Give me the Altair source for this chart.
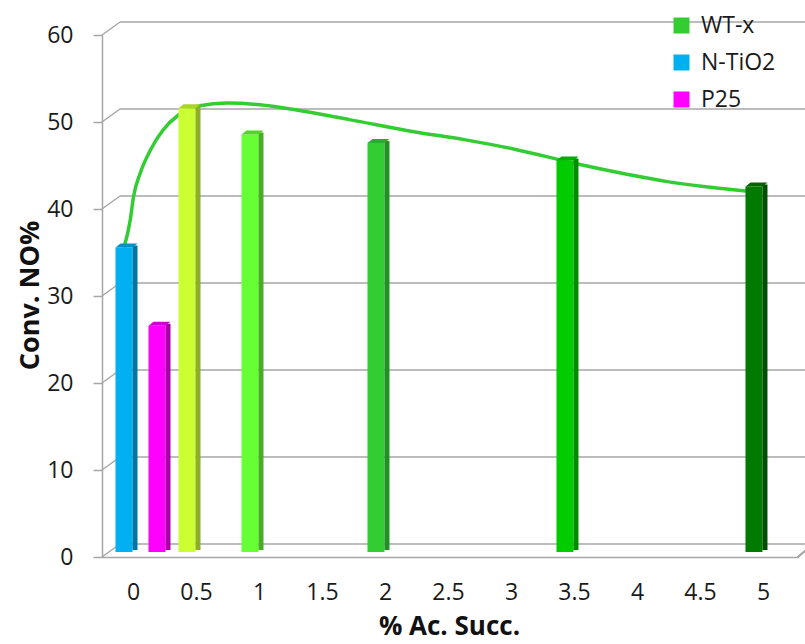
import altair as alt
import pandas as pd

# ---- data ----
x_ticks = [0, 0.5, 1, 1.5, 2, 2.5, 3, 3.5, 4, 4.5, 5]
y_ticks = [0, 10, 20, 30, 40, 50, 60]

series_names = ["WT-x", "N-TiO2", "P25"]
wt_x = [0.5, 1, 2, 3.5, 5]
wt_values = [51, 48, 47, 45, 42]
ntio2_x = [0]
ntio2_values = [35]
p25_x = [0]
p25_values = [26]

# smoothed curve drawn over the WT-x series
curve_x = [0, 0.05, 0.075, 0.13, 0.21, 0.31, 0.43, 0.6, 0.82, 1.08, 1.37, 1.79,
           2.3, 2.7, 3.1, 3.6, 4.0, 4.3, 4.6, 5.0]
curve_y = [35, 38.2, 40.8, 43.6, 46.2, 48.5, 50.2, 51.3, 51.6, 51.4, 50.8, 49.7,
           48.3, 47.4, 46.3, 44.6, 43.4, 42.6, 42.0, 41.4]

# ---- styles ----
bar_ids = ["N-TiO2|0", "P25|0", "WT-x|0.5", "WT-x|1", "WT-x|2", "WT-x|3.5", "WT-x|5"]
front_colors = ["#00B0F0", "#FF00FF", "#CCFF33", "#66FF33", "#33CC33", "#00CC00", "#007A00"]
side_colors = ["#0076A6", "#A800A8", "#8DAF24", "#45AE22", "#229022", "#008C00", "#004F00"]
top_colors = ["#0092C8", "#D000D0", "#A9D42A", "#52D42A", "#2AAE2A", "#00AE00", "#006400"]
legend_colors = ["#33CC33", "#00B0F0", "#FF00FF"]
offsets = {"WT-x": -9, "N-TiO2": -9, "P25": 24}

rows = []
for s, xs, vs in [("N-TiO2", ntio2_x, ntio2_values), ("P25", p25_x, p25_values), ("WT-x", wt_x, wt_values)]:
    for xv, v in zip(xs, vs):
        rows.append({"series": s, "x": xv, "value": v, "id": f"{s}|{xv:g}"})
bars = pd.DataFrame(rows)
curve = pd.DataFrame({"x": curve_x, "y": curve_y})
grid = pd.DataFrame({"v": y_ticks})

W, H = 696, 522
FONT = "Open Sans"

xscale = alt.Scale(domain=[-0.246, 5.278], nice=False, zero=False, padding=0)
yscale = alt.Scale(domain=[0, 60], nice=False, padding=0)

xaxis = alt.Axis(values=x_ticks, format="~g", grid=False, ticks=False, domain=True,
                 domainColor="#A6A6A6", domainWidth=1.5,
                 labelFont=FONT, labelFontSize=23, labelColor="#1a1a1a", labelPadding=24,
                 title="% Ac. Succ.", titleFont=FONT, titleFontSize=26, titleFontWeight="bold",
                 titleColor="#111", titleX=347, titleY=69, titleAlign="center", titleBaseline="middle")
yaxis = alt.Axis(values=y_ticks, grid=False, domainColor="#A6A6A6", domainWidth=1.5,
                 tickColor="#A6A6A6", tickSize=9, tickWidth=1.5,
                 labelFont=FONT, labelFontSize=23, labelColor="#1a1a1a", labelPadding=20,
                 title="Conv. NO%", titleFont=FONT, titleFontSize=27, titleFontWeight="bold",
                 titleColor="#111", titleX=-72, titleY=H / 2 - 1, titleAngle=270,
                 titleAlign="center", titleBaseline="middle")

base_grid = alt.Chart(grid)
gridlines = base_grid.mark_rule(color="#A6A6A6", strokeWidth=1.5, yOffset=-13).encode(
    x=alt.value(18), x2=alt.value(W + 8), y=alt.Y("v:Q", scale=yscale, axis=yaxis))
diagonals = base_grid.mark_rule(color="#A6A6A6", strokeWidth=1.5, y2Offset=-13).encode(
    x=alt.value(0), x2=alt.value(18), y=alt.Y("v:Q", scale=yscale), y2="v:Q")
floor_corner = base_grid.mark_rule(color="#A6A6A6", strokeWidth=1.5).encode(
    x=alt.value(W), x2=alt.value(W + 8), y=alt.value(H), y2=alt.value(H - 7))

line = alt.Chart(curve).mark_line(color="#33CC33", strokeWidth=3.5, interpolate="monotone",
                                  xOffset=-9, yOffset=-5).encode(
    x=alt.X("x:Q", scale=xscale, axis=xaxis), y=alt.Y("y:Q", scale=yscale))

front_scale = alt.Scale(domain=bar_ids, range=front_colors)
side_scale = alt.Scale(domain=bar_ids, range=side_colors)
top_scale = alt.Scale(domain=bar_ids, range=top_colors)

# top-face parallelogram: front width 17, depth 5 px right and 4 px up (size 484 -> unit 11 px)
top_shape = "M -1 0.1818 L 0.5455 0.1818 L 1 -0.1818 L -0.5455 -0.1818 Z"

layers = [gridlines, diagonals, floor_corner, line]
for s in ["N-TiO2", "P25", "WT-x"]:
    off = offsets[s]
    sub = alt.Chart(bars).transform_filter(alt.datum.series == s)
    front = sub.mark_bar(width=17, xOffset=off, yOffset=-5, y2Offset=-5).encode(
        x=alt.X("x:Q", scale=xscale), y=alt.Y("value:Q", scale=yscale), y2=alt.datum(0),
        fill=alt.Fill("id:N", scale=front_scale, legend=None))
    side = sub.mark_bar(width=5, xOffset=off + 11, yOffset=-7, y2Offset=-7).encode(
        x=alt.X("x:Q", scale=xscale), y=alt.Y("value:Q", scale=yscale), y2=alt.datum(0),
        fill=alt.Fill("id:N", scale=side_scale, legend=None))
    top = sub.mark_point(shape=top_shape, size=484, filled=True, opacity=1, strokeWidth=0,
                         xOffset=off + 2.5, yOffset=-7).encode(
        x=alt.X("x:Q", scale=xscale), y=alt.Y("value:Q", scale=yscale),
        fill=alt.Fill("id:N", scale=top_scale, legend=None))
    layers += [front, side, top]

legend_layer = alt.Chart(bars).mark_point(shape="square", filled=True, opacity=0).encode(
    x=alt.X("x:Q", scale=xscale), y=alt.Y("value:Q", scale=yscale),
    color=alt.Color("series:N", scale=alt.Scale(domain=series_names, range=legend_colors),
                    legend=alt.Legend(title=None, orient="none", legendX=568, legendY=-21,
                                      symbolType="square", symbolSize=256, symbolOpacity=1,
                                      symbolStrokeWidth=0, labelFont=FONT, labelFontSize=23,
                                      labelColor="#1a1a1a", labelOffset=8, rowPadding=13,
                                      padding=0)))
layers.append(legend_layer)

chart = alt.layer(*layers).resolve_scale(fill="independent").properties(
    width=W, height=H,
    autosize=alt.AutoSizeParams(type="none"),
    padding={"left": 102, "top": 35, "right": 7, "bottom": 87},
    background="white",
).configure_view(stroke=None)

chart.save("out.html", embed_options={"renderer": "svg", "actions": False})
